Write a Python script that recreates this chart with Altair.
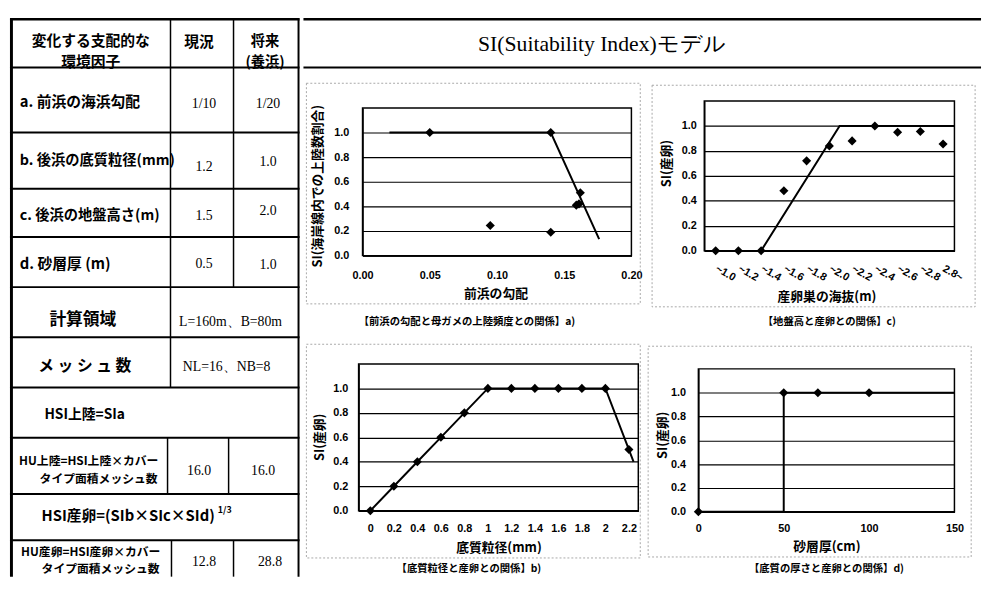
import json
import altair as alt
import pandas as pd

# ============================ data ============================
MAIN_TITLE = "SI(Suitability Index)モデル"

HEAD_FACTOR = "変化する支配的な\n環境因子"
HEAD_NOW = "現況"
HEAD_FUTURE = "将来\n(養浜)"
FACTORS = ["a.  前浜の海浜勾配", "b. 後浜の底質粒径(mm)", "c. 後浜の地盤高さ(m)", "d.  砂層厚  (m)"]
NOW_VALUES = ["1/10", "1.2", "1.5", "0.5"]
FUTURE_VALUES = ["1/20", "1.0", "2.0", "1.0"]
AREA_LABEL = "計算領域"
AREA_VALUE = "L=160m、B=80m"
MESH_LABEL = "メ ッ シ ュ 数"
MESH_VALUE = "NL=16、NB=8"
HSI_LAND = "HSI上陸=SIa"
HU_LAND = ["HU上陸=HSI上陸×カバー", "タイプ面積メッシュ数"]
HU_LAND_VALUES = ["16.0", "16.0"]
HSI_EGG = "HSI産卵=(SIb×SIc×SId)"
HSI_EGG_EXP = "1/3"
HU_EGG = ["HU産卵=HSI産卵×カバー", "タイプ面積メッシュ数"]
HU_EGG_VALUES = ["12.8", "28.8"]

CAP_A = "【前浜の勾配と母ガメの上陸頻度との関係】a)"
CAP_B = "【底質粒径と産卵との関係】b)"
CAP_C = "【地盤高と産卵との関係】c)"
CAP_D = "【底質の厚さと産卵との関係】d)"

Y_TICKS = [0.0, 0.2, 0.4, 0.6, 0.8, 1.0]

# a) beach slope vs landing frequency
A_X = [0.05, 0.095, 0.14, 0.14, 0.159, 0.161, 0.162]
A_Y = [1.0, 0.245, 1.0, 0.19, 0.41, 0.42, 0.51]
A_LINE_X = [0.02, 0.14, 0.176]
A_LINE_Y = [1.0, 1.0, 0.134]
A_TICKS = [0.0, 0.05, 0.10, 0.15, 0.20]

# c) nest elevation vs spawning
C_LABELS = ["~1.0", "~1.2", "~1.4", "~1.6", "~1.8", "~2.0", "~2.2", "~2.4", "~2.6", "~2.8", "2.8~"]
C_Y = [0.0, 0.0, 0.0, 0.48, 0.72, 0.84, 0.88, 1.0, 0.95, 0.955, 0.855]
C_LINE_POS = [3.0, 6.45, 11.5]
C_LINE_Y = [0.0, 1.0, 1.0]

# b) grain size vs spawning
B_X = [0.0, 0.2, 0.4, 0.6, 0.8, 1.0, 1.2, 1.4, 1.6, 1.8, 2.0, 2.2]
B_Y = [0.0, 0.2, 0.4, 0.6, 0.8, 1.0, 1.0, 1.0, 1.0, 1.0, 1.0, 0.5]
B_LINE_X = [0.0, 0.2, 0.4, 0.6, 0.8, 1.0, 1.2, 1.4, 1.6, 1.8, 2.0, 2.2, 2.24]
B_LINE_Y = [0.0, 0.2, 0.4, 0.6, 0.8, 1.0, 1.0, 1.0, 1.0, 1.0, 1.0, 0.5, 0.4]

# d) sand layer thickness vs spawning
D_X = [0, 50, 70, 100]
D_Y = [0.0, 1.0, 1.0, 1.0]
D_LINE_X = [0, 50, 50, 150]
D_LINE_Y = [0.0, 0.0, 1.0, 1.0]
D_TICKS = [0, 50, 100, 150]

# ============================ styling ============================
JP = "Noto Sans CJK JP"
SANS = "Liberation Sans"
SERIF = "Liberation Serif"


def ident(n):
    return alt.Scale(domain=[0, n], range=[0, n], nice=False, zero=False)


# ---------------------------- table ----------------------------
T_W, T_H = 294, 567
ROW_EDGES = [50, 116, 173, 222, 273, 324, 375, 426, 483, 530]

rules = [dict(x=1.5, x2=1.5, y=0, y2=T_H, w=3),
         dict(x=0, x2=T_W, y=1, y2=1, w=2.5),
         dict(x=T_W - 1, x2=T_W - 1, y=0, y2=T_H, w=2)]
for yy in ROW_EDGES:
    rules.append(dict(x=0, x2=T_W, y=yy, y2=yy, w=2))
for (xx, y0, y1) in [(163, 0, 273), (227, 0, 273), (163, 273, 375),
                     (160, 426, 483), (222, 426, 483), (164, 530, T_H), (227, 530, T_H)]:
    rules.append(dict(x=xx, x2=xx, y=y0, y2=y1, w=1.5))
rules_df = pd.DataFrame(rules)

tx, ty = ident(T_W), ident(T_H)


def rule_layer(df, sx, sy):
    return alt.Chart(df).mark_rule(color="black").encode(
        x=alt.X("x:Q", scale=sx, axis=None), x2="x2:Q",
        y=alt.Y("y:Q", scale=sy, axis=None), y2="y2:Q",
        strokeWidth=alt.StrokeWidth("w:Q", scale=None, legend=None))


def text_layer(items, **kw):
    df = pd.DataFrame(items, columns=["t", "x", "y", "fs"])
    return alt.Chart(df).mark_text(color="black", lineBreak="\n", baseline="middle", **kw).encode(
        text="t:N",
        x=alt.X("x:Q", scale=tx, axis=None),
        y=alt.Y("y:Q", scale=ty, axis=None),
        size=alt.Size("fs:Q", scale=None, legend=None))


head_items = [(HEAD_FACTOR, 82, 23.5, 15), (HEAD_NOW, 192, 24, 15), (HEAD_FUTURE, 259, 24, 14.5)]
center_items = [(AREA_LABEL, 74, 306, 17), (MESH_LABEL, 76, 353, 16),
                (HU_LAND[0], 80, 450, 12), (HU_LAND[1], 90, 467.5, 12),
                (HU_EGG[0], 82, 542, 12), (HU_EGG[1], 92, 559.5, 12)]
left_items = [(FACTORS[0], 10, 85, 15), (FACTORS[1], 10, 145, 14.5), (FACTORS[2], 10, 201, 14.5),
              (FACTORS[3], 10, 250, 15), (HSI_LAND, 35, 403, 14), (HSI_EGG, 32, 505, 15),
              (HSI_EGG_EXP, 211, 499, 9)]
value_items = [(NOW_VALUES[0], 197, 87, 14), (NOW_VALUES[1], 197, 151, 14),
               (NOW_VALUES[2], 197, 201, 14), (NOW_VALUES[3], 197, 250, 14),
               (FUTURE_VALUES[0], 262, 87, 14), (FUTURE_VALUES[1], 262, 146, 14),
               (FUTURE_VALUES[2], 262, 196, 14), (FUTURE_VALUES[3], 262, 251, 14),
               (AREA_VALUE, 224, 308, 14), (MESH_VALUE, 220, 354, 14),
               (HU_LAND_VALUES[0], 192, 460, 14), (HU_LAND_VALUES[1], 257, 460, 14),
               (HU_EGG_VALUES[0], 197, 552, 14), (HU_EGG_VALUES[1], 264, 552, 14)]

table = alt.layer(
    rule_layer(rules_df, tx, ty),
    text_layer(head_items, font=JP, fontWeight="bold", align="center", lineHeight=21),
    text_layer(center_items, font=JP, fontWeight="bold", align="center"),
    text_layer(left_items, font=JP, fontWeight="bold", align="left"),
    text_layer(value_items, font=SERIF, align="center"),
).properties(width=T_W, height=T_H)

# ---------------------------- title cell ----------------------------
R_W, R_TH = 688, 51
title_rules = pd.DataFrame([dict(x=0, x2=R_W, y=1, y2=1, w=2.5),
                            dict(x=0, x2=R_W, y=50, y2=50, w=2)])
title_cell = alt.layer(
    rule_layer(title_rules, ident(R_W), ident(R_TH)),
    alt.Chart(pd.DataFrame({"t": [MAIN_TITLE]})).mark_text(
        font=SERIF, fontSize=22, align="center", baseline="middle", color="black").encode(
        text="t:N", x=alt.value(303), y=alt.value(26)),
).properties(width=R_W, height=R_TH)


# ---------------------------- panels ----------------------------
def make_panel(W, H, xr, yr, xdom, pts, line, frame, xkw, ykw, caption, cap_off, cap_dx):
    xs = alt.Scale(domain=xdom, range=xr, nice=False, zero=False)
    ys = alt.Scale(domain=[0, 1.2], range=yr, nice=False, zero=False)
    base = dict(labelFont=SANS, labelFontWeight="bold", labelFontSize=11, labelColor="black",
                titleFont=JP, titleFontWeight="bold", titleFontSize=13, titleColor="black",
                titleAlign="center", titleBaseline="middle",
                domainColor="black", domainWidth=1.5, ticks=False, tickSize=0,
                labelFlush=False, labelOverlap=False)
    xopts = dict(base)
    xopts.update(xkw)
    xopts.update(grid=False, offset=yr[0] - H)
    yopts = dict(base)
    yopts.update(ykw)
    yopts.update(grid=True, gridColor="black", gridWidth=1.2, gridOpacity=1,
                 offset=-xr[0], values=Y_TICKS, format=".1f")
    xaxis = alt.Axis(**xopts)
    yaxis = alt.Axis(**yopts)
    pts_df = pd.DataFrame({"x": pts[0], "y": pts[1]})
    line_df = pd.DataFrame({"x": line[0], "y": line[1], "i": list(range(len(line[0])))})
    one = pd.DataFrame({"k": [0]})
    frame_l = alt.Chart(one).mark_rect(fillOpacity=0, stroke="#a8a8a8", strokeWidth=1,
                                       strokeDash=[2, 2]).encode(
        x=alt.value(frame[0]), x2=alt.value(frame[1]), y=alt.value(frame[2]), y2=alt.value(frame[3]))
    box = alt.Chart(one).mark_rect(fillOpacity=0, stroke="black", strokeWidth=1.5).encode(
        x=alt.XDatum(xdom[0], type="quantitative", scale=xs, axis=xaxis), x2=alt.X2Datum(xdom[1]),
        y=alt.YDatum(0, type="quantitative", scale=ys, axis=yaxis), y2=alt.Y2Datum(1.2))
    ln = alt.Chart(line_df).mark_line(color="black", strokeWidth=2).encode(
        x=alt.X("x:Q", scale=xs, axis=xaxis), y=alt.Y("y:Q", scale=ys, axis=yaxis), order="i:Q")
    pt = alt.Chart(pts_df).mark_point(shape="diamond", filled=True, size=85, color="black",
                                      opacity=1).encode(
        x=alt.X("x:Q", scale=xs, axis=xaxis), y=alt.Y("y:Q", scale=ys, axis=yaxis))
    return alt.layer(frame_l, box, ln, pt).properties(
        width=W, height=H,
        title=alt.TitleParams(text=caption, orient="bottom", anchor="middle", frame="group",
                              offset=cap_off, dx=cap_dx, baseline="middle", font=JP,
                              fontSize=10.5, fontWeight="bold", color="black"))


pa = make_panel(343, 270, [60, 333], [190, 40], [0, 0.2], (A_X, A_Y), (A_LINE_X, A_LINE_Y),
                (3, 342, 15, 239),
                dict(title="前浜の勾配", values=A_TICKS, format=".2f", labelPadding=14,
                     titleX=195, titleY=39),
                dict(title="SI(海岸線内での上陸数割合)", labelPadding=14, titleX=-46, titleY=119),
                CAP_A, -13, -5.5)

c_pos = [i + 1 for i in range(len(C_LABELS))]
pc = make_panel(345, 270, [63, 317], [185, 33], [0.5, 11.5], (c_pos, C_Y), (C_LINE_POS, C_LINE_Y),
                (10, 338, 17, 242),
                dict(title="産卵巣の海抜(m)", values=c_pos,
                     labelExpr=json.dumps(C_LABELS) + "[round(datum.value) - 1]",
                     labelAngle=30, labelAlign="left", labelBaseline="top", labelPadding=12,
                     labelOffset=3, labelFontSize=11, titleX=187, titleY=47),
                dict(title="SI(産卵)", labelPadding=8, titleX=-38, titleY=96),
                CAP_C, -13, 17.5)

pb = make_panel(343, 246, [56, 340], [179, 30], [-0.1, 2.28], (B_X, B_Y), (B_LINE_X, B_LINE_Y),
                (3, 342, 10, 227),
                dict(title="底質粒径(mm)", values=B_X, format="~g", labelPadding=12,
                     titleX=198, titleY=37),
                dict(title="SI(産卵)", labelPadding=11, titleX=-40, titleY=104),
                CAP_B, -8, -3.5)

pd_ = make_panel(345, 246, [58, 318], [180, 35], [0, 150], (D_X, D_Y), (D_LINE_X, D_LINE_Y),
                 (7, 335, 12, 226),
                 dict(title="砂層厚(cm)", values=D_TICKS, format="d", labelPadding=11,
                      titleX=188, titleY=35),
                 dict(title="SI(産卵)", labelPadding=13, titleX=-36, titleY=102),
                 CAP_D, -8, 15.5)

right = alt.vconcat(title_cell,
                    alt.hconcat(pa, pc, spacing=0),
                    alt.hconcat(pb, pd_, spacing=0),
                    spacing=0)

chart = alt.hconcat(table, right, spacing=0).properties(
    padding={"left": 0, "top": 4, "right": 0, "bottom": 0}
).configure_view(strokeWidth=0)

chart.save("out.html", embed_options={"renderer": "svg", "actions": False})
